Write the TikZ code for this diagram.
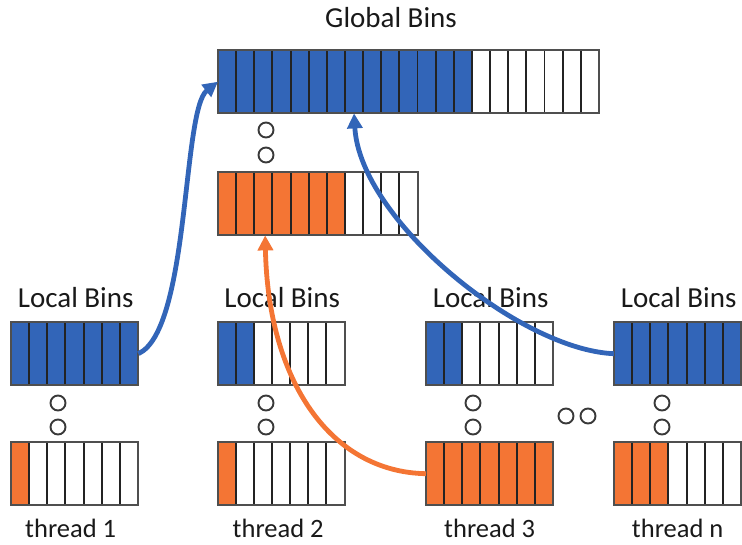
\documentclass[tikz,border=0pt]{standalone}
\usepackage{fontspec}
\setmainfont{Carlito}
\usetikzlibrary{arrows.meta,calc}
\definecolor{binblue}{RGB}{50,101,184}
\definecolor{binorange}{RGB}{244,117,52}
\definecolor{cellline}{RGB}{35,35,35}
\tikzset{
  rowbox/.style={inner sep=0pt, minimum height=63pt, anchor=north west},
  binlbl/.style={font=\fontsize{29}{33}\selectfont, anchor=base, inner sep=0pt, text=black!90},
  thrlbl/.style={font=\fontsize{26.5}{31}\selectfont, anchor=base, inner sep=0pt, text=black!90},
  dotmark/.style={circle, draw=cellline!90, line width=1.9pt, minimum size=15pt, inner sep=0pt},
  flow/.style={line width=4.8pt, -{Triangle[length=15pt,width=15pt]}},
}
\newcommand{\binrowdraw}[6]{% name, x, y, cells, filled, color
  \node[rowbox, minimum width={#4*18.14pt}] (#1) at (#2,#3) {};
  \fill[#6] (#1.north west) rectangle ($(#1.south west)+(#5*18.14,0)$);
  \pgfmathtruncatemacro\lastdiv{#4-1}
  \foreach \i in {1,...,\lastdiv}{%
    \draw[cellline, line width=1.9pt] ($(#1.north west)+(\i*18.14,0)$) -- ($(#1.south west)+(\i*18.14,0)$);
  }
  \draw[cellline!80, line width=2pt] (#1.north west) rectangle (#1.south east);
}
\begin{document}
\begin{tikzpicture}[x=1pt,y=-1pt]
\useasboundingbox (0,0) rectangle (742,544);

% global bins
\binrowdraw{gb}{218}{50}{21}{14}{binblue}
\binrowdraw{go}{218}{172}{11}{7}{binorange}
\node[binlbl] (gl) at (391,27) {Global Bins};
\node[dotmark] (gd1) at (266,130) {};
\node[dotmark] (gd2) at (266,155) {};

% local bins
\binrowdraw{l1b}{11}{322}{7}{7}{binblue}
\binrowdraw{l2b}{217.5}{322}{7}{2}{binblue}
\binrowdraw{l3b}{426}{322}{7}{2}{binblue}
\binrowdraw{lnb}{614}{322}{7}{7}{binblue}
\binrowdraw{l1o}{11}{442}{7}{1}{binorange}
\binrowdraw{l2o}{217.5}{442}{7}{1}{binorange}
\binrowdraw{l3o}{426}{442}{7}{7}{binorange}
\binrowdraw{lno}{614}{442}{7}{3}{binorange}

\foreach \b in {l1b,l2b,l3b,lnb}{
  \node[binlbl] (lab-\b) at ($(\b.north)+(1,-15)$) {Local Bins};
}
\node[thrlbl] (t1) at ($(l1o.south)+(-4,32)$) {thread 1};
\node[thrlbl] (t2) at ($(l2o.south)+(-3,32)$) {thread 2};
\node[thrlbl] (t3) at ($(l3o.south)+(0,32)$) {thread 3};
\node[thrlbl] (tn) at ($(lno.south)+(0,32)$) {thread n};

% dots
\node[dotmark] (d1a) at (58,403) {};
\node[dotmark] (d1b) at (58,427) {};
\node[dotmark] (d2a) at (266,403) {};
\node[dotmark] (d2b) at (266,427) {};
\node[dotmark] (d3a) at (473,403) {};
\node[dotmark] (d3b) at (473,427) {};
\node[dotmark] (dna) at (662,403) {};
\node[dotmark] (dnb) at (662,427) {};
\node[dotmark] (dh1) at (566,416) {};
\node[dotmark] (dh2) at (588,416) {};

% targets
\coordinate (gbt) at ($(gb.south west)+(7.5*18.14,0)$);
\coordinate (got) at ($(go.south west)+(2.6*18.14,0)$);

% arrows
\draw[flow, binblue] (l1b.east) .. controls (190,330) and (182,110) .. (gb.west);
\draw[flow, binblue] (lnb.west) .. controls (520,350) and (360,220) .. (gbt);
\draw[flow, binorange] (l3o.west) .. controls (330,472) and (268,380) .. (got);
\end{tikzpicture}
\end{document}
